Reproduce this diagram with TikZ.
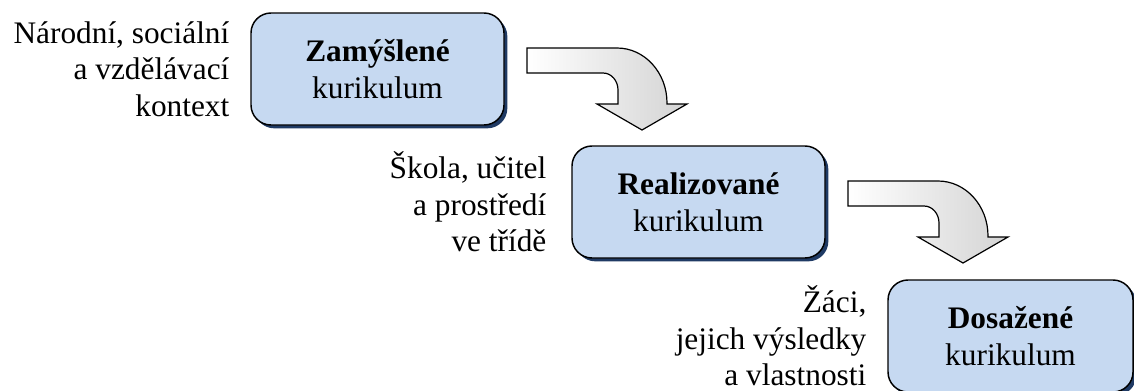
\documentclass[tikz,border=0pt]{standalone}
\usepackage{fontspec}
\setmainfont{LiberationSerif}[Extension=.ttf,UprightFont=*-Regular,BoldFont=*-Bold,ItalicFont=*-Italic,BoldItalicFont=*-BoldItalic]
\usetikzlibrary{positioning,shadows}
\definecolor{boxblue}{HTML}{C6D9F1}
\definecolor{shadowblue}{HTML}{1F3A64}
\begin{document}
\begin{tikzpicture}[x=0.75pt,y=-0.75pt,
  every node/.style={font=\fontsize{23.5}{27.5}\selectfont},
  stage/.style={draw,line width=1.1pt,rounded corners=15pt,fill=boxblue,align=center,
    minimum width=189.75pt,minimum height=84pt,
    drop shadow={shadow xshift=2.5pt,shadow yshift=-2.5pt,fill=shadowblue,opacity=1}},
  ctx/.style={align=right,inner sep=0pt},
  bendarrow/.pic={
    \path[draw=black,line width=0.9pt,shade,left color=white,right color=black!17]
      (0,0)--(90,0) .. controls (117.6,0) and (140,24.6) .. (140,55)
      --(140,56)--(160,56)--(115,82)--(70,56)--(91,56)--(91,42)
      .. controls (91,32.6) and (84.3,25) .. (76,25)--(0,25)--cycle;
  }]
\useasboundingbox (0,0) rectangle (1134,390);
% kurikula
\node[stage] (zam) at (377.5,69) {\textbf{Zamýšlené}\\kurikulum};
\node[stage] (real) at (698.5,202) {\textbf{Realizované}\\kurikulum};
\node[stage,minimum width=183.75pt] (dos) at (1010.5,336) {\textbf{Dosažené}\\kurikulum};
% kontext
\node[ctx,left=15.5pt of zam] (zamctx) {Národní, sociální\\a vzdělávací\\kontext};
\node[ctx,left=18.5pt of real] (realctx) {Škola, učitel\\a prostředí\\ve třídě};
\node[ctx,left=15.5pt of dos] (dosctx) {Žáci,\\jejich výsledky\\a vlastnosti};
% sipky
\pic at (527,48) {bendarrow};
\pic at (848,181) {bendarrow};
\end{tikzpicture}
\end{document}
